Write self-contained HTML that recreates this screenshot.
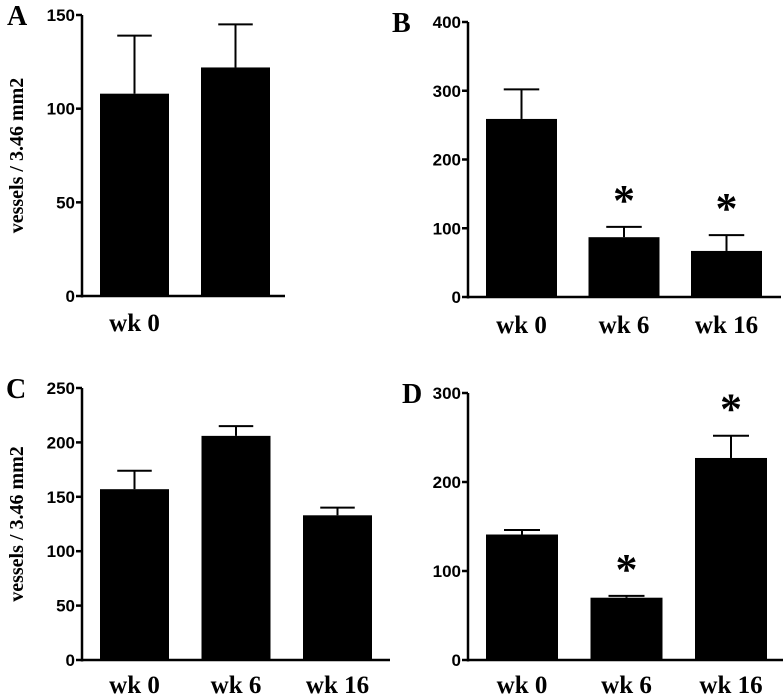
<!DOCTYPE html>
<html><head><meta charset="utf-8"><style>
html,body{margin:0;padding:0;background:#fff;}
svg{display:block;}
.tk{font-family:"Liberation Sans",sans-serif;font-weight:bold;font-size:17px;}
.xl{font-family:"Liberation Serif",serif;font-weight:bold;font-size:25px;}
.pl{font-family:"Liberation Serif",serif;font-weight:bold;font-size:28px;}
.yt{font-family:"Liberation Serif",serif;font-weight:bold;font-size:20px;}
.st{font-family:"Liberation Serif",serif;font-weight:bold;font-size:44px;}
</style></head><body>
<svg id="fig" width="783" height="695" viewBox="0 0 783 695" xmlns="http://www.w3.org/2000/svg"></svg>
<script>
const aCats=["wk 0",""];
const aVals=[108,122];
const aErr=[139,145];
const aTicks=[0,50,100,150];
const bCats=["wk 0","wk 6","wk 16"];
const bVals=[259,87,67];
const bErr=[302,102,90];
const bTicks=[0,100,200,300,400];
const bStar=[false,true,true];
const cCats=["wk 0","wk 6","wk 16"];
const cVals=[157,206,133];
const cErr=[174,215,140];
const cTicks=[0,50,100,150,200,250];
const dCats=["wk 0","wk 6","wk 16"];
const dVals=[141,70,227];
const dErr=[146,72,252];
const dTicks=[0,100,200,300];
const dStar=[false,true,true];

const NS="http://www.w3.org/2000/svg";
const svg=document.getElementById('fig');
function mk(tag,attrs,parent){const e=document.createElementNS(NS,tag);for(const k in attrs)e.setAttribute(k,attrs[k]);(parent||svg).appendChild(e);return e;}

function panel(cfg){
  const g=mk('g',{});
  
  
  const max=cfg.ticks[cfg.ticks.length-1];
  const y=v=>cfg.y0-(v/max)*(cfg.y0-cfg.yTop);
  const ax=mk('line',{x1:cfg.ax,y1:cfg.yTop,x2:cfg.ax,y2:cfg.y0+1.5,stroke:'#000','stroke-width':2.5},g);
  
  
  const xa=mk('line',{x1:cfg.ax-1,y1:cfg.y0,x2:cfg.xEnd,y2:cfg.y0,stroke:'#000','stroke-width':2.5},g);
  
  
  cfg.ticks.forEach(t=>{
    mk('line',{x1:cfg.ax-6,y1:y(t),x2:cfg.ax,y2:y(t),stroke:'#000','stroke-width':2.5},g);
    const tx=mk('text',{x:cfg.ax-7,y:y(t)+6,'text-anchor':'end',class:'tk'},g);
    tx.textContent=t;
    
    
  });
  const pl=mk('text',{x:cfg.lx,y:cfg.yTop+10,class:'pl'},g);
  pl.textContent=cfg.letter;
  
  
  cfg.vals.forEach((v,i)=>{
    const x0=cfg.b0+i*cfg.step, w=cfg.bw, cx=x0+w/2;
    const e=cfg.err[i];
    mk('line',{x1:cx,y1:y(v),x2:cx,y2:y(e),stroke:'#000','stroke-width':2},g);
    mk('line',{x1:cx-w/4,y1:y(e),x2:cx+w/4,y2:y(e),stroke:'#000','stroke-width':2},g);
    const r=mk('rect',{x:x0,y:y(v),width:w,height:cfg.y0-y(v),fill:'#000'},g);
    
    
    if(cfg.stars&&cfg.stars[i]){
      const s=mk('text',{x:cx,y:y(e)-12,'text-anchor':'middle',class:'st'},g);
      s.textContent='*';
      
      
    }
    if(cfg.cats[i]){
      const l=mk('text',{x:cx,y:cfg.labY,'text-anchor':'middle',class:'xl'},g);
      l.textContent=cfg.cats[i];
      
      
    }
  });
  if(cfg.ytitle){
    const mid=(cfg.yTop+cfg.y0)/2;
    const t=mk('text',{x:0,y:0,'text-anchor':'middle',class:'yt',transform:`translate(23,${mid}) rotate(-90)`},g);
    t.textContent='vessels / 3.46 mm2';
    
    
  }
}
panel({letter:'A',cats:aCats,vals:aVals,err:aErr,ticks:aTicks,ax:82,yTop:15,y0:296,xEnd:285,b0:100,step:101,bw:69,labY:331,lx:7,ytitle:true});
panel({letter:'B',cats:bCats,vals:bVals,err:bErr,ticks:bTicks,stars:bStar,ax:468,yTop:22,y0:297,xEnd:781,b0:486,step:102.5,bw:71,labY:333,lx:392});
panel({letter:'C',cats:cCats,vals:cVals,err:cErr,ticks:cTicks,ax:82,yTop:388,y0:660,xEnd:390,b0:100,step:101.5,bw:69,labY:693,lx:6,ytitle:true});
panel({letter:'D',cats:dCats,vals:dVals,err:dErr,ticks:dTicks,stars:dStar,ax:468,yTop:393,y0:660,xEnd:783,b0:486,step:104.5,bw:72,labY:693,lx:402});
</script>
</body></html>
